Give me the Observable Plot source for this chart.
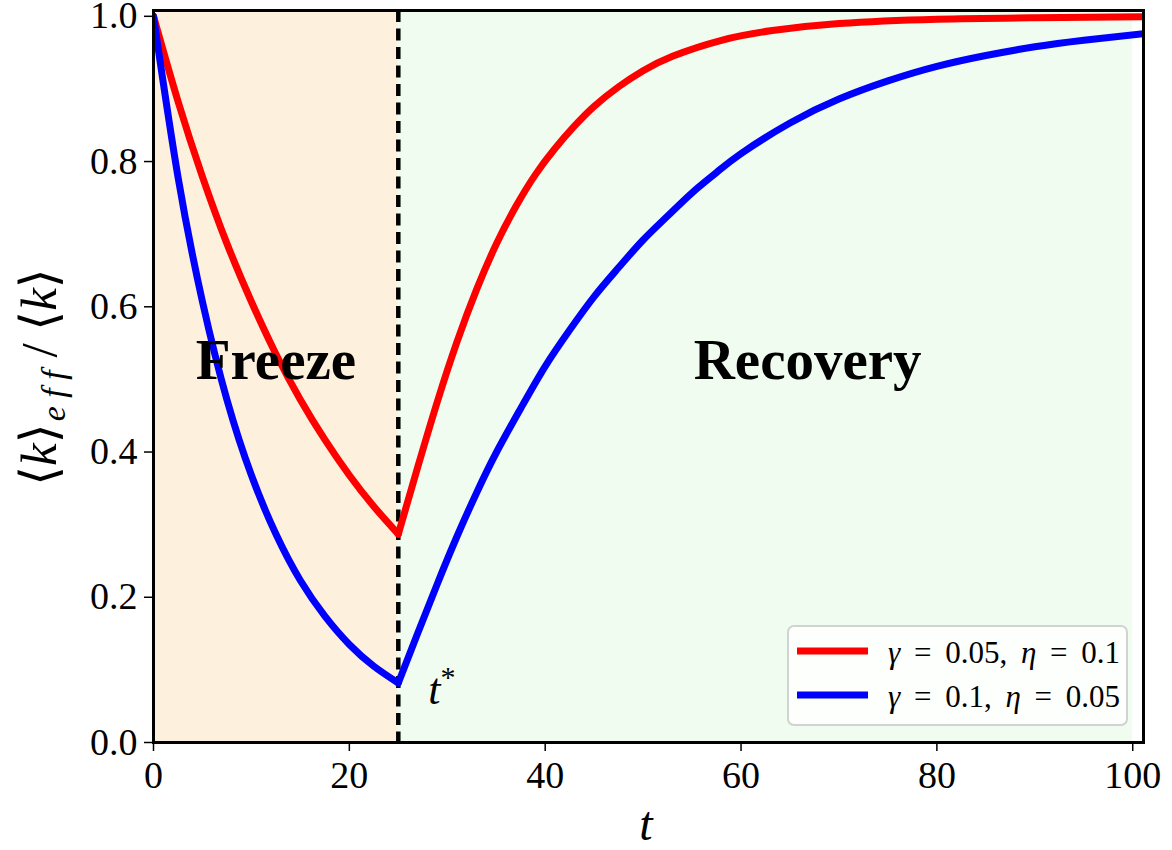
<!DOCTYPE html>
<html>
<head>
<meta charset="utf-8">
<script src="https://cdn.jsdelivr.net/npm/d3@7"></script>
<script src="https://cdn.jsdelivr.net/npm/@observablehq/plot@0.6"></script>
<style>
  html, body { margin: 0; padding: 0; background: #ffffff; }
  #chart { width: 1172px; height: 850px; }
</style>
</head>
<body>
<div id="chart"></div>
<script>
// ---- data ----
const freezeT    = [0, 2.5, 5, 7.5, 10, 12.5, 15, 17.5, 20, 22.5, 25];
const redFreeze  = [1.000, 0.883, 0.779, 0.687, 0.607, 0.535, 0.472, 0.417, 0.368, 0.325, 0.287];
const blueFreeze = [1.000, 0.779, 0.607, 0.472, 0.368, 0.287, 0.223, 0.174, 0.135, 0.105, 0.082];

const redRecT = [25, 27, 29, 31, 33, 35, 37, 39, 41, 43, 45, 47.5, 50, 53, 58, 63, 70, 80, 90, 101.1];
const redRec  = [0.287, 0.380, 0.470, 0.552, 0.624, 0.686, 0.738, 0.782, 0.818, 0.849, 0.876, 0.903, 0.925, 0.945, 0.967, 0.980, 0.990, 0.996, 0.998, 0.9995];

const blueRecT = [25, 27, 29, 31, 33, 35, 37.5, 40, 42.5, 45, 47.5, 50, 52.5, 55, 57.5, 60, 65, 70, 75, 80, 85, 90, 95, 101.1];
const blueRec  = [0.082, 0.151, 0.219, 0.284, 0.344, 0.399, 0.460, 0.518, 0.568, 0.614, 0.654, 0.692, 0.725, 0.757, 0.785, 0.811, 0.853, 0.886, 0.911, 0.931, 0.946, 0.958, 0.967, 0.976];

const seriesNames  = ["red", "blue"];
const seriesColors = ["#ff0000", "#0000ff"];
const legendLabels = ["γ = 0.05, η = 0.1", "γ = 0.1, η = 0.05"];

const tStar = 25;
const phaseNames = ["Freeze", "Recovery"];
const phaseStart = [0, 25];
const phaseEnd   = [25, 100];
const phaseFill  = ["#fdf0dc", "#f0fcef"];
const phaseLabelX = [12.5, 66.8];
const phaseLabelY = [0.5, 0.5];

const xTicks = [0, 20, 40, 60, 80, 100];
const yTicks = [0, 0.2, 0.4, 0.6, 0.8, 1.0];
const xDomain = [0, 101.1];
const yDomain = [0, 1.008];

// ---- tables built from the arrays ----
const rows = [];
freezeT.forEach((t, i) => {
  rows.push({t, v: redFreeze[i], s: "red", seg: "red-f"});
  rows.push({t, v: blueFreeze[i], s: "blue", seg: "blue-f"});
});
redRecT.forEach((t, i) => rows.push({t, v: redRec[i], s: "red", seg: "red-r"}));
blueRecT.forEach((t, i) => rows.push({t, v: blueRec[i], s: "blue", seg: "blue-r"}));

const phases = phaseNames.map((n, i) => ({name: n, x1: phaseStart[i], x2: phaseEnd[i], fill: phaseFill[i], lx: phaseLabelX[i], ly: phaseLabelY[i]}));

const FONT = "'Liberation Serif', 'DejaVu Serif', serif";

const plot = Plot.plot({
  width: 1172,
  height: 850,
  marginLeft: 153,
  marginRight: 29,
  marginTop: 10,
  marginBottom: 108,
  style: {fontFamily: FONT, background: "#ffffff", color: "#000000"},
  x: {domain: xDomain},
  y: {domain: yDomain},
  color: {domain: seriesNames, range: seriesColors},
  marks: [
    Plot.rect(phases, {x1: "x1", x2: "x2", fill: "fill"}),
    Plot.ruleX([tStar], {stroke: "#000", strokeWidth: 4.5, strokeDasharray: "12,6.5"}),
    Plot.line(rows.filter(d => d.s === "red"), {x: "t", y: "v", z: "seg", stroke: "s", strokeWidth: 7, curve: "natural", clip: "frame"}),
    Plot.line(rows.filter(d => d.s === "blue"), {x: "t", y: "v", z: "seg", stroke: "s", strokeWidth: 7, curve: "natural", clip: "frame"}),
    Plot.text(phases, {x: "lx", y: "ly", text: "name", fontWeight: "bold", fontSize: 57, textAnchor: "middle", lineAnchor: "bottom", fill: "#000"}),
    Plot.frame({stroke: "#000", strokeWidth: 3}),
    Plot.axisX({ticks: xTicks, tickSize: 9, tickPadding: 10, fontSize: 38, label: null, strokeWidth: 1.5, tickFormat: d3.format("d")}),
    Plot.axisY({ticks: yTicks, tickSize: 9, tickPadding: 7, fontSize: 38, label: null, strokeWidth: 1.5, tickFormat: d3.format(".1f")})
  ]
});

document.getElementById("chart").appendChild(plot);

const svg = d3.select(plot);
const xs = plot.scale("x");
const ys = plot.scale("y");

// t* annotation
const tStarText = svg.append("text")
  .attr("x", xs.apply(28.1))
  .attr("y", ys.apply(0.052))
  .attr("text-anchor", "start")
  .attr("font-family", FONT)
  .attr("font-size", 44)
  .attr("fill", "#000");
tStarText.append("tspan").attr("font-style", "italic").text("t");
tStarText.append("tspan").attr("font-size", 30).attr("dy", -17).text("*");

// x label
svg.append("text")
  .attr("x", 646).attr("y", 840)
  .attr("text-anchor", "middle")
  .attr("font-family", FONT).attr("font-size", 48).attr("font-style", "italic")
  .attr("fill", "#000")
  .text("t");

// y label
const yl = svg.append("text")
  .attr("transform", "translate(56,377) rotate(-90)")
  .attr("text-anchor", "middle")
  .attr("font-family", FONT).attr("font-size", 51)
  .attr("fill", "#000");
yl.append("tspan").text("⟨");
yl.append("tspan").attr("font-style", "italic").text("k");
yl.append("tspan").text("⟩");
yl.append("tspan").attr("font-style", "italic").attr("font-size", 34).attr("dy", 9).attr("dx", 2).text("e f f");
yl.append("tspan").attr("dy", -9).text(" / ⟨");
yl.append("tspan").attr("font-style", "italic").text("k");
yl.append("tspan").text("⟩");

// legend
const lg = svg.append("g");
lg.append("rect")
  .attr("x", 788).attr("y", 626).attr("width", 339).attr("height", 99)
  .attr("rx", 6).attr("ry", 6)
  .attr("fill", "#ffffff").attr("fill-opacity", 0.85)
  .attr("stroke", "#d2d2d2").attr("stroke-width", 2);
seriesNames.forEach((s, i) => {
  const yy = 651 + i * 44;
  lg.append("line")
    .attr("x1", 797).attr("x2", 868).attr("y1", yy).attr("y2", yy)
    .attr("stroke", seriesColors[i]).attr("stroke-width", 7);
  const tx = lg.append("text")
    .attr("x", 888).attr("y", yy + 12)
    .attr("text-anchor", "start")
    .attr("font-family", FONT).attr("font-size", 31)
    .attr("word-spacing", 6)
    .attr("fill", "#000");
  const parts = legendLabels[i].split(/([γη])/).filter(p => p.length);
  parts.forEach(p => {
    const ts = tx.append("tspan").text(p);
    if (/[γη]/.test(p)) ts.attr("font-style", "italic");
  });
});
</script>
</body>
</html>
